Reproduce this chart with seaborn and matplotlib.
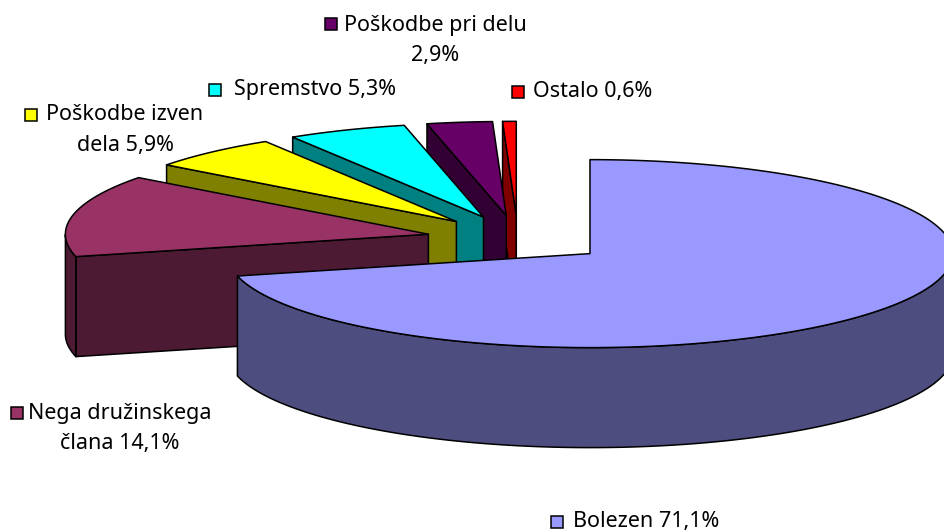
import numpy as np
import matplotlib
matplotlib.use("Agg")
import matplotlib.pyplot as plt
from matplotlib.patches import Polygon
import seaborn as sns

# data, clockwise from 12 o'clock
categories = ["Bolezen", "Nega družinskega člana", "Poškodbe izven dela", "Spremstvo", "Poškodbe pri delu", "Ostalo"]
values = [71.1, 14.1, 5.9, 5.3, 2.9, 0.6]
top_colors = ["#9999FF", "#993366", "#FFFF00", "#00FFFF", "#660066", "#FF0000"]
side_colors = ["#4D4D80", "#4D1A33", "#808000", "#008080", "#330033", "#800000"]

# label lines with where they sit in the picture
label_lines = [
    ["Bolezen 71,1%"],
    ["Nega družinskega", "člana 14,1%"],
    ["Poškodbe izven", "dela 5,9%"],
    ["Spremstvo 5,3%"],
    ["Poškodbe pri delu", "2,9%"],
    ["Ostalo 0,6%"],
]
label_centers = [(646, 522), (120, 414), (125, 115), (315, 90), (435, 25), (593, 92)]
key_pos = [(557, 522), (17, 413), (31, 115), (215, 90), (331, 24), (518, 92)]

# pie projection
cx, cy = 518, 239
rx, ry = 363, 94
depth = 100
explode = 0.252

sns.set_theme(style="white")
plt.rcParams["font.family"] = ["Noto Sans", "DejaVu Sans"]

fig, ax = plt.subplots(figsize=(9.45, 5.31), dpi=100)
ax.set_position([0, 0, 1, 1])
ax.set_xlim(0, 945)
ax.set_ylim(531, 0)
ax.axis("off")


def point(ox, oy, a):
    return ox + rx * np.sin(a), oy - ry * np.cos(a)


fractions = np.array(values) / np.sum(values)
edges = np.concatenate([[0], np.cumsum(fractions)]) * 2 * np.pi

# back to front: last slice first, the big one on top
for i in range(len(values) - 1, -1, -1):
    a0, a1 = edges[i], edges[i + 1]
    mid = (a0 + a1) / 2
    ox, oy = point(cx, cy, mid)
    ox = cx + (ox - cx) * explode
    oy = cy + (oy - cy) * explode

    arc = np.linspace(a0, a1, 150)
    ax_arc, ay_arc = point(ox, oy, arc)
    style = dict(edgecolor="black", linewidth=1.1, joinstyle="round", zorder=2 * (len(values) - i))

    # only the walls that face the viewer
    walls = []
    if a1 < np.pi:
        walls.append(a1)
    if a0 > np.pi:
        walls.append(a0)
    for a in walls:
        px, py = point(ox, oy, a)
        wall = [(ox, oy), (px, py), (px, py + depth), (ox, oy + depth)]
        ax.add_patch(Polygon(wall, facecolor=side_colors[i], **style))

    front = arc[np.cos(arc) < 0]
    if len(front) > 1:
        fx, fy = point(ox, oy, front)
        outer = np.r_[np.c_[fx, fy], np.c_[fx, fy + depth][::-1]]
        ax.add_patch(Polygon(outer, facecolor=side_colors[i], **style))

    top = np.r_[[(ox, oy)], np.c_[ax_arc, ay_arc]]
    ax.add_patch(Polygon(top, facecolor=top_colors[i], **style))

# labels with their colour keys
for lines, (tx, ty), (kx, ky), color in zip(label_lines, label_centers, key_pos, top_colors):
    ax.plot(kx, ky, marker="s", markersize=9, markerfacecolor=color, markeredgecolor="black",
            markeredgewidth=1.1, linestyle="none", zorder=20, clip_on=False)
    for n, line in enumerate(lines):
        ax.text(tx, ty + n * 30, line, ha="center", va="center", fontsize=15.5, color="black", zorder=20)

sns.despine(left=True, bottom=True)
fig.savefig("out.png", dpi=100, facecolor="white")
